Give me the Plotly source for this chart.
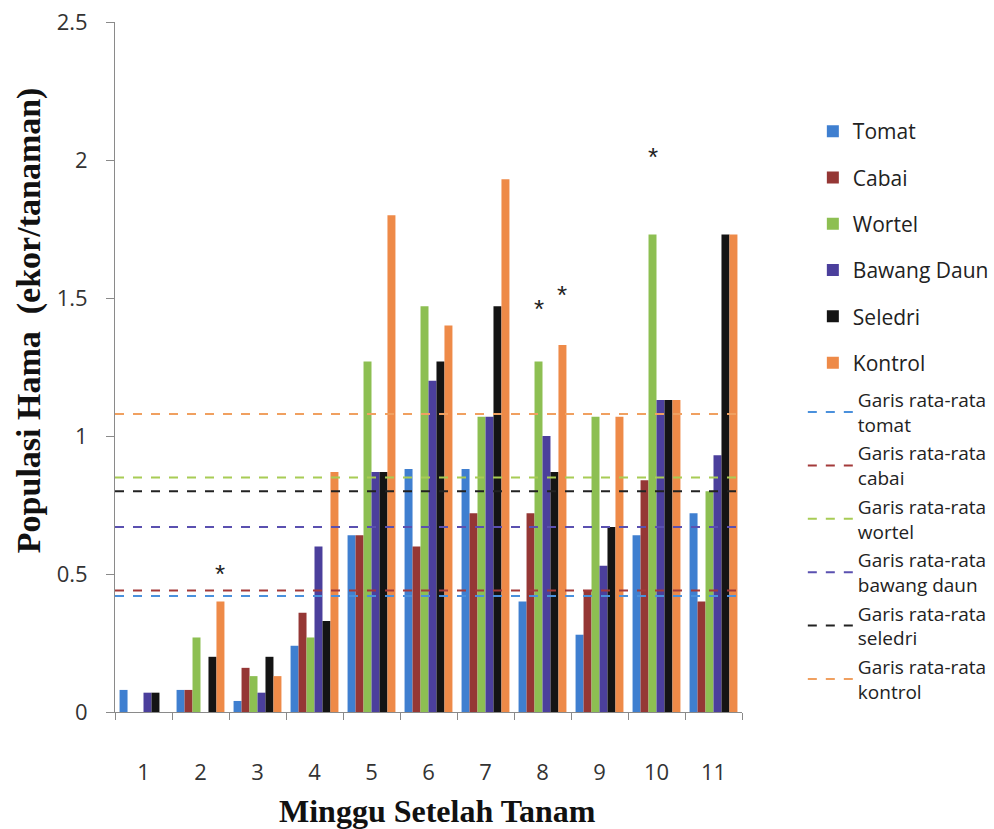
import plotly.graph_objects as go

weeks = ["1", "2", "3", "4", "5", "6", "7", "8", "9", "10", "11"]

tomat = [0.08, 0.08, 0.04, 0.24, 0.64, 0.88, 0.88, 0.40, 0.28, 0.64, 0.72]
cabai = [0.00, 0.08, 0.16, 0.36, 0.64, 0.60, 0.72, 0.72, 0.44, 0.84, 0.40]
wortel = [0.00, 0.27, 0.13, 0.27, 1.27, 1.47, 1.07, 1.27, 1.07, 1.73, 0.80]
bawang_daun = [0.07, 0.00, 0.07, 0.60, 0.87, 1.20, 1.07, 1.00, 0.53, 1.13, 0.93]
seledri = [0.07, 0.20, 0.20, 0.33, 0.87, 1.27, 1.47, 0.87, 0.67, 1.13, 1.73]
kontrol = [0.00, 0.40, 0.13, 0.87, 1.80, 1.40, 1.93, 1.33, 1.07, 1.13, 1.73]

series_names = ["Tomat", "Cabai", "Wortel", "Bawang Daun", "Seledri", "Kontrol"]
series_values = [tomat, cabai, wortel, bawang_daun, seledri, kontrol]
bar_colors = ["#3f7fd0", "#953735", "#8dbf52", "#4b3f9c", "#141414", "#ee8a48"]

avg_names = ["Garis rata-rata<br>tomat", "Garis rata-rata<br>cabai",
             "Garis rata-rata<br>wortel", "Garis rata-rata<br>bawang daun",
             "Garis rata-rata<br>seledri", "Garis rata-rata<br>kontrol"]
avg_values = [0.42, 0.44, 0.85, 0.67, 0.80, 1.08]
avg_colors = ["#4a90dc", "#a33a3a", "#a8cc55", "#5a50b0", "#222222", "#f0a060"]

# significance markers: (week index, series index, y position of the asterisk)
stars = [(2, 5, 0.50), (8, 2, 1.46), (8, 5, 1.51), (10, 2, 2.01)]

BARGAP = 0.16

fig = go.Figure()
for i, (name, vals, col) in enumerate(zip(series_names, series_values, bar_colors)):
    fig.add_trace(go.Bar(
        x=weeks, y=vals, name=name, marker=dict(color=col, line=dict(width=0)),
        legend="legend", legendgroup="b%d" % i,
    ))

for i, (name, val, col) in enumerate(zip(avg_names, avg_values, avg_colors)):
    fig.add_trace(go.Scatter(
        x=[0, 1], y=[val, val], mode="lines", name=name,
        line=dict(color=col, width=2, dash="dash"),
        xaxis="x2", legend="legend2", legendgroup="l%d" % i,
    ))

w = (1 - BARGAP) / len(series_names)
annotations = []
for week, s, yv in stars:
    annotations.append(dict(
        x=(week - 1) + (s - (len(series_names) - 1) / 2) * w, y=yv,
        xref="x", yref="y", text="*", showarrow=False,
        font=dict(size=26, color="#222", family="Liberation Sans"),
    ))

annotations.append(dict(
    text="<b>Populasi Hama  (ekor/tanaman)</b>", xref="paper", yref="paper",
    x=-0.137, y=0.568, xanchor="center", yanchor="middle",
    textangle=-90, showarrow=False,
    font=dict(family="Liberation Serif", size=34, color="#111"),
))
annotations.append(dict(
    text="<b>Minggu Setelah Tanam</b>", xref="paper", yref="paper",
    x=0.514, y=-0.143, xanchor="center", yanchor="middle", showarrow=False,
    font=dict(family="Liberation Serif", size=32, color="#111"),
))

fig.update_layout(
    width=994, height=829,
    margin=dict(l=115, r=252, t=22, b=117, autoexpand=False),
    paper_bgcolor="white", plot_bgcolor="white",
    barmode="group", bargap=BARGAP, bargroupgap=0,
    font=dict(family="Open Sans", color="#333"),
    xaxis=dict(
        type="category", tickson="boundaries", ticks="outside", ticklen=7,
        tickcolor="#8a8a8a", showline=True, linecolor="#8a8a8a", linewidth=1,
        showgrid=False, tickfont=dict(size=22, color="#333"),
        ticklabelstandoff=41, automargin=False,
    ),
    xaxis2=dict(overlaying="x", range=[0, 1], visible=False),
    yaxis=dict(
        range=[0, 2.5], tickvals=[0, 0.5, 1, 1.5, 2, 2.5],
        ticktext=["0", "0.5", "1", "1.5", "2", "2.5"],
        ticks="outside", ticklen=8, tickcolor="#8a8a8a",
        showline=True, linecolor="#8a8a8a", linewidth=1, showgrid=False,
        zeroline=False, tickfont=dict(size=22, color="#333"),
        ticklabelstandoff=14, automargin=False,
    ),
    legend=dict(
        x=1.113, y=0.871, xanchor="left", yanchor="top",
        font=dict(size=21, color="#222"), tracegroupgap=16,
        bgcolor="rgba(0,0,0,0)",
    ),
    legend2=dict(
        x=1.097, y=0.48, xanchor="left", yanchor="top",
        font=dict(size=19, color="#222"), tracegroupgap=1,
        itemwidth=45, bgcolor="rgba(0,0,0,0)",
    ),
    annotations=annotations,
    showlegend=True,
)

fig.write_html("out.html")
